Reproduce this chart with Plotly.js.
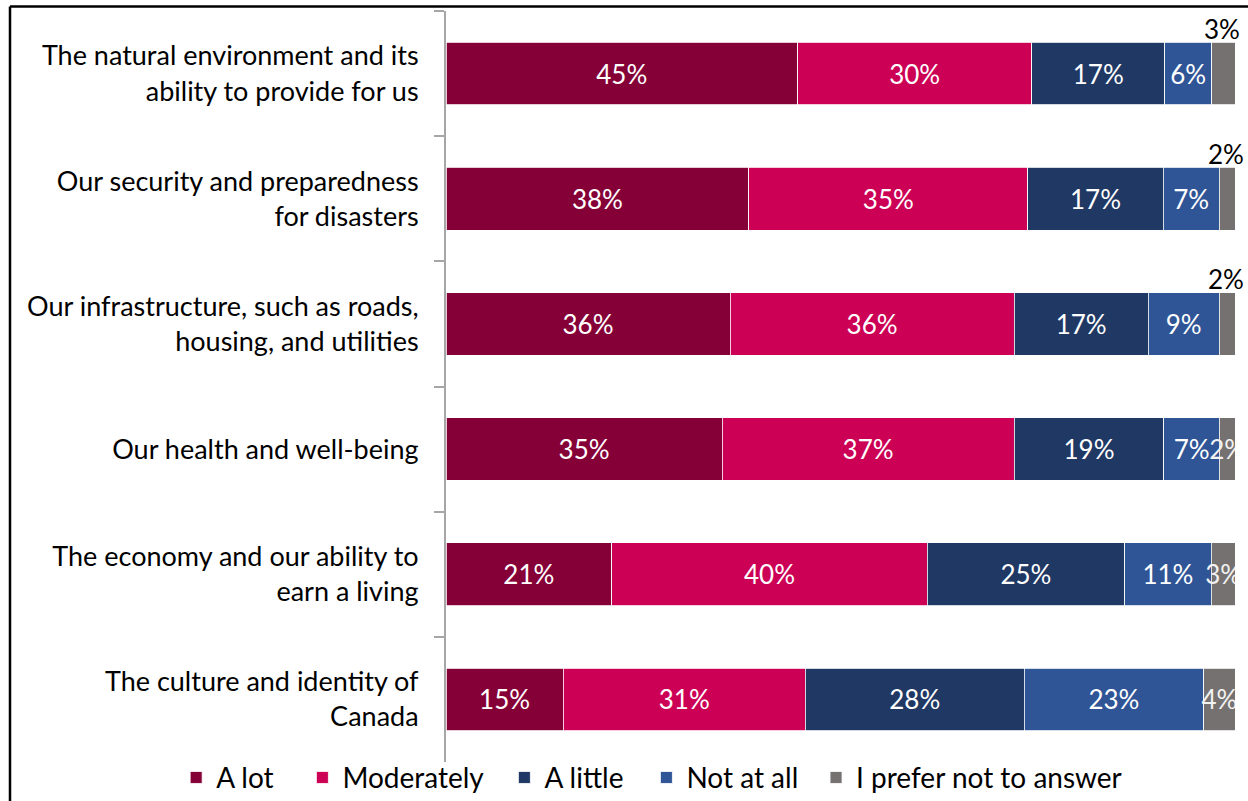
<!DOCTYPE html>
<html>
<head>
<meta charset="utf-8">
<script src="https://cdn.plot.ly/plotly-3.0.1.min.js"></script>
<style>
  body { margin: 0; background: #fff; }
  #plot { width: 1248px; height: 801px; }
</style>
</head>
<body>
<div id="plot"></div>
<script>
// categories, top to bottom
var categories = [
  "The natural environment and its<br>ability to provide for us",
  "Our security and preparedness<br>for disasters",
  "Our infrastructure, such as roads,<br>housing, and utilities",
  "Our health and well-being",
  "The economy and our ability to<br>earn a living",
  "The culture and identity of<br>Canada"
];

var aLot       = [45, 38, 36, 35, 21, 15];
var moderately = [30, 35, 36, 37, 40, 31];
var aLittle    = [17, 17, 17, 19, 25, 28];
var notAtAll   = [6, 7, 9, 7, 11, 23];
var noAnswer   = [3, 2, 2, 2, 3, 4];

var seriesNames = ["A lot", "Moderately", "A little", "Not at all", "I prefer not to answer"];
var seriesValues = [aLot, moderately, aLittle, notAtAll, noAnswer];
var colors = ["#860038", "#cc0055", "#203864", "#2f5597", "#767171"];

var font = "Lato, 'Open Sans', sans-serif";

// one legend per series so the entries can be spaced like the original
var legendIds = ["legend", "legend2", "legend3", "legend4", "legend5"];
var legendX = [-0.342, -0.182, 0.074, 0.254, 0.469];

var data = seriesValues.map(function (vals, i) {
  var last = i === seriesValues.length - 1;
  return {
    type: "bar",
    orientation: "h",
    name: seriesNames[i],
    legend: legendIds[i],
    y: categories,
    x: vals,
    text: vals.map(function (v, j) {
      // small grey labels on the top rows sit above the bar (annotations)
      if (last && j < 3) return "";
      return v + "%";
    }),
    textposition: "inside",
    insidetextanchor: "middle",
    constraintext: "none",
    textangle: 0,
    textfont: { family: font, size: 26, color: last ? "#f2f2f2" : "#ffffff" },
    marker: { color: colors[i], line: { color: "#ffffff", width: 0.8 } },
    hoverinfo: "x+y+name"
  };
});

// labels above the grey segments for the first three rows
var annotations = [];
for (var j = 0; j < 3; j++) {
  var total = 0;
  seriesValues.forEach(function (s) { total += s[j]; });
  annotations.push({
    x: 100 - (noAnswer[j] / total) * 100 / 2,
    y: categories[j],
    xref: "x",
    yref: "y",
    text: noAnswer[j] + "%",
    showarrow: false,
    yshift: 45,
    xshift: -1,
    font: { family: font, size: 26, color: "#000000" }
  });
}

var layout = {
  width: 1248,
  height: 801,
  margin: { l: 446, r: 13, t: 11, b: 39, autoexpand: false },
  paper_bgcolor: "#ffffff",
  plot_bgcolor: "#ffffff",
  barmode: "stack",
  barnorm: "percent",
  bargap: 0.5,
  showlegend: true,
  xaxis: {
    range: [0, 100],
    showgrid: false,
    zeroline: false,
    showticklabels: false,
    showline: false,
    fixedrange: true
  },
  yaxis: {
    autorange: "reversed",
    showgrid: false,
    zeroline: false,
    showline: true,
    linecolor: "#a6a6a6",
    linewidth: 2,
    ticks: "outside",
    tickson: "boundaries",
    ticklen: 10,
    tickwidth: 2,
    tickcolor: "#a6a6a6",
    ticklabelstandoff: 20,
    tickfont: { family: font, size: 27, color: "#000000" }
  },
  annotations: annotations,
  shapes: [
    { type: "line", xref: "paper", yref: "paper", x0: -0.5526, x1: -0.5526, y0: 1.006, y1: -0.06,
      line: { color: "#000000", width: 2.5 } },
    { type: "line", xref: "paper", yref: "paper", x0: -0.5526, x1: 1.02, y0: 1.006, y1: 1.006,
      line: { color: "#000000", width: 2.5 } }
  ]
};

legendIds.forEach(function (id, i) {
  layout[id] = {
    orientation: "h",
    x: legendX[i],
    xanchor: "left",
    y: -0.021,
    yanchor: "middle",
    font: { family: font, size: 28, color: "#000000" },
    itemwidth: 30,
    bgcolor: "rgba(0,0,0,0)"
  };
});

Plotly.newPlot("plot", data, layout, { displayModeBar: false, staticPlot: true });
</script>
</body>
</html>
